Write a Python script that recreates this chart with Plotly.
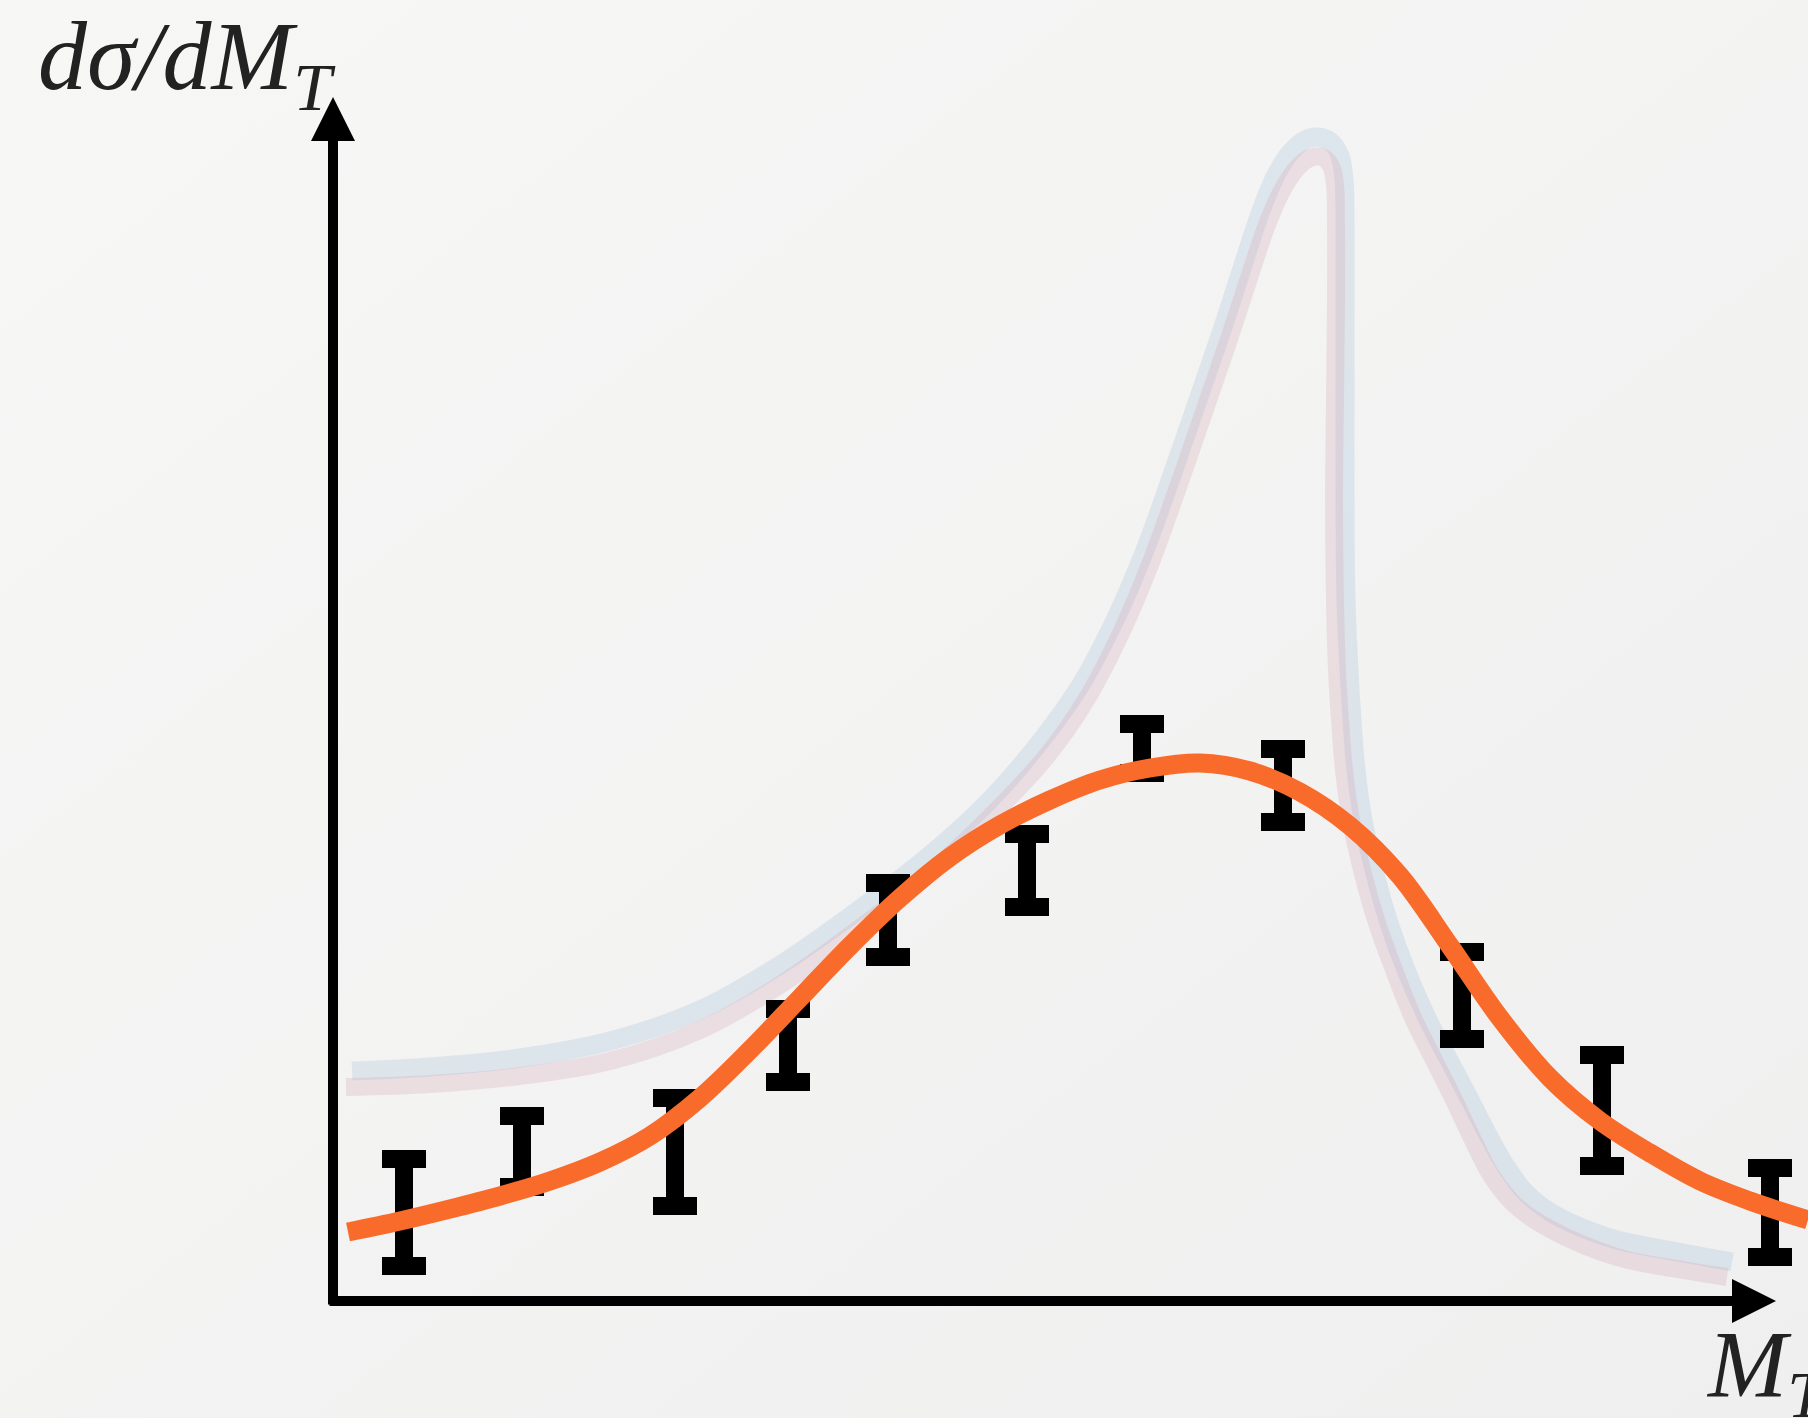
import base64
import plotly.graph_objects as go

# ---------------- data (arbitrary units, origin at the axes corner) ----------------
# orange fit curve
fit_x = [15, 67, 117, 167, 217, 267, 317, 367, 417, 467, 517, 567, 617, 667, 717,
         767, 817, 867, 917, 967, 1017, 1067, 1117, 1167, 1217, 1267, 1317, 1367,
         1417, 1475]
fit_y = [69, 80, 92, 105, 120, 139, 165, 203, 251, 303, 355, 403, 444, 476, 501,
         521, 533, 538, 530, 509, 475, 425, 355, 283, 223, 180, 148, 120,
         100, 81]

# light blue theory curve
blue_x = [19, 97, 187, 277, 367, 447, 527, 597, 657, 707, 747, 782, 812, 839, 865,
          889, 911, 929, 943, 957, 972, 985, 998, 1007, 1011, 1012, 1012, 1012, 1012,
          1013, 1016, 1019, 1023, 1030, 1041, 1055, 1073, 1095, 1117, 1137, 1155,
          1172, 1192, 1217, 1247, 1284, 1350, 1399]
blue_y = [230, 234, 243, 260, 291, 336, 392, 446, 501, 559, 615, 681, 751, 826, 901,
          971, 1039, 1093, 1126, 1148, 1161, 1164, 1159, 1145, 1121, 1081, 1001, 901, 801,
          701, 631, 581, 531, 481, 431, 381, 331, 281, 239, 201, 166,
          136, 109, 89, 74, 61, 48, 39]

# light pink theory curve
pink_x = [13, 97, 187, 277, 367, 447, 527, 597, 657, 713, 753, 788, 818, 845, 871,
          895, 917, 935, 951, 965, 977, 989, 998, 1002, 1003, 1003, 1002, 1001, 1002,
          1004, 1007, 1011, 1018, 1029, 1043, 1061, 1081, 1102, 1121, 1139, 1158,
          1182, 1217, 1284, 1350, 1394]
pink_y = [214, 217, 225, 240, 271, 316, 373, 428, 484, 544, 601, 668, 739, 814, 889,
          959, 1026, 1079, 1114, 1134, 1143, 1144, 1135, 1116, 1076, 1001, 901, 801, 701,
          631, 581, 531, 481, 431, 381, 331, 281, 239, 201, 163, 126,
          96, 72, 44, 31, 24]

# measured points with error bars (lower and upper ends)
pt_x = [71, 189, 342, 455, 555, 694, 809, 950, 1129, 1269, 1437]
pt_lo = [35, 114, 95, 219, 344, 394, 528, 479, 262, 135, 44]
pt_hi = [142, 185, 203, 292, 418, 467, 577, 552, 349, 246, 133]

# axis extents
x_axis_end = 1443
y_axis_end = 1204

# ---------------- figure ----------------
pt_c = [(a + b) / 2 for a, b in zip(pt_lo, pt_hi)]
err_up = [h - c for h, c in zip(pt_hi, pt_c)]
err_dn = [c - l for c, l in zip(pt_c, pt_lo)]

fig = go.Figure()

fig.add_trace(go.Scatter(
    x=blue_x, y=blue_y, mode="lines",
    line=dict(color="rgba(160,190,215,0.26)", width=19, shape="spline",
              smoothing=1.0, simplify=False),
    hoverinfo="skip", showlegend=False))

fig.add_trace(go.Scatter(
    x=pink_x, y=pink_y, mode="lines",
    line=dict(color="rgba(210,155,172,0.24)", width=18, shape="spline",
              smoothing=1.0, simplify=False),
    hoverinfo="skip", showlegend=False))

fig.add_trace(go.Scatter(
    x=pt_x, y=pt_c, mode="markers",
    marker=dict(size=1, color="rgba(0,0,0,0)"),
    error_y=dict(type="data", symmetric=False, array=err_up, arrayminus=err_dn,
                 color="#000000", thickness=18, width=22),
    hoverinfo="skip", showlegend=False))

fig.add_trace(go.Scatter(
    x=fit_x, y=fit_y, mode="lines",
    line=dict(color="#f96b2a", width=19, shape="spline",
              smoothing=1.0, simplify=False),
    hoverinfo="skip", showlegend=False))

annotations = [
    # y axis arrow
    dict(x=0, y=y_axis_end, ax=0, ay=-5, xref="x", yref="y", axref="x", ayref="y",
         showarrow=True, arrowhead=2, arrowsize=0.88, arrowwidth=10, arrowcolor="#000000",
         text=""),
    # x axis arrow
    dict(x=x_axis_end, y=0, ax=-5, ay=0, xref="x", yref="y", axref="x", ayref="y",
         showarrow=True, arrowhead=2, arrowsize=0.88, arrowwidth=10, arrowcolor="#000000",
         text=""),
    # labels
    dict(x=36 / 1808, y=1.0, xref="paper", yref="paper",
         xanchor="left", yanchor="top", showarrow=False,
         text="<i>dσ/dM<sub>T</sub></i>",
         font=dict(family="Liberation Serif", size=98, color="#222222")),
    dict(x=1704 / 1808, y=1 - 1310 / 1418, xref="paper", yref="paper",
         xanchor="left", yanchor="top", showarrow=False,
         text="<i>M<sub>T</sub></i>",
         font=dict(family="Liberation Serif", size=95, color="#222222")),
]

# subtle diagonal background gradient
bg_svg = (
    '<svg xmlns="http://www.w3.org/2000/svg" width="1808" height="1418">'
    '<defs><linearGradient id="g" x1="0" y1="0" x2="1" y2="1">'
    '<stop offset="0" stop-color="#f7f7f6"/><stop offset="1" stop-color="#efefef"/>'
    '</linearGradient></defs><rect width="1808" height="1418" fill="url(#g)"/></svg>'
)
bg_uri = "data:image/svg+xml;base64," + base64.b64encode(bg_svg.encode()).decode()

fig.update_layout(
    width=1808, height=1418,
    margin=dict(l=0, r=0, t=0, b=0),
    paper_bgcolor="#f3f3f3", plot_bgcolor="rgba(0,0,0,0)",
    xaxis=dict(range=[-333, 1475], visible=False, fixedrange=True),
    yaxis=dict(range=[-117, 1301], visible=False, fixedrange=True),
    images=[dict(source=bg_uri, xref="paper", yref="paper", x=0, y=1,
                 sizex=1, sizey=1, xanchor="left", yanchor="top",
                 sizing="stretch", layer="below")],
    annotations=annotations,
    hovermode=False,
    showlegend=False,
)

fig.write_html(
    "out.html",
    config={"displayModeBar": False},
    post_script="document.body.style.margin='0px';document.body.style.overflow='hidden';"
                "document.body.style.background='#f3f3f3';",
)
